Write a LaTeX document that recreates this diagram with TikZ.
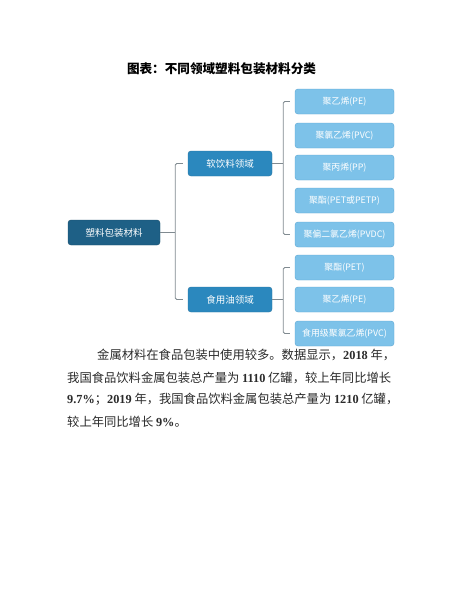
\documentclass[tikz,border=0pt]{standalone}
\usepackage{fontspec}
\setmainfont{Noto Sans CJK SC}
\newfontfamily\cjk{Noto Sans CJK SC}
\newfontfamily\latn{Liberation Serif}
\newcommand{\dg}[1]{{\latn\bfseries #1}}
\definecolor{rootc}{HTML}{1E6086}
\definecolor{midc}{HTML}{2B88BE}
\definecolor{leafc}{HTML}{7DC2E9}
\definecolor{leafb}{HTML}{5CA6D3}
\definecolor{connc}{HTML}{808A90}
\definecolor{txtc}{HTML}{2A2A2A}
\tikzset{
  box/.style={rounded corners=3pt, text=white, align=center, inner sep=0pt, minimum height=25pt},
  rootbox/.style={box, fill=rootc, draw=rootc!80!black, minimum width=92pt, font=\cjk\fontsize{9.5}{11}\selectfont},
  midbox/.style={box, fill=midc, draw=midc!85!black, minimum width=84pt, font=\cjk\fontsize{9.5}{11}\selectfont},
  leafbox/.style={box, fill=leafc, draw=leafb, minimum width=99pt, font=\cjk\fontsize{8.9}{10}\selectfont},
  conn/.style={draw=connc, line width=0.8pt, rounded corners=1.5pt},
  para/.style={anchor=west, inner sep=0pt, text=txtc, font=\cjk\fontsize{12.3}{14}\selectfont}
}
\begin{document}
\begin{tikzpicture}[x=1pt,y=-1pt]
\fill[white] (0,0) rectangle (463,600);
\path[use as bounding box] (0,0) rectangle (463,600);

\node[font=\cjk\bfseries\fontsize{12.6}{14}\selectfont, text=black, inner sep=0pt] (title) at (221.5,69) {图表：不同领域塑料包装材料分类};

\node[rootbox] (root) at (114,232.5) {塑料包装材料};
\node[midbox] (soft) at (230,163.5) {软饮料领域};
\node[midbox] (oil) at (230,299.5) {食用油领域};

\node[leafbox] (l1) at (344.5,101.5) {聚乙烯(PE)};
\node[leafbox] (l2) at (344.5,135.5) {聚氯乙烯(PVC)};
\node[leafbox] (l3) at (344.5,167.5) {聚丙烯(PP)};
\node[leafbox] (l4) at (344.5,200.5) {聚酯(PET或PETP)};
\node[leafbox] (l5) at (344.5,234.5) {聚偏二氯乙烯(PVDC)};
\node[leafbox] (l6) at (344.5,267.5) {聚酯(PET)};
\node[leafbox] (l7) at (344.5,299.5) {聚乙烯(PE)};
\node[leafbox] (l8) at (344.5,333.5) {食用级聚氯乙烯(PVC)};

\coordinate (p0) at ([xshift=15pt]root.east);
\draw[conn] (root.east) -- (p0);
\draw[conn] ([xshift=-5pt]soft.west) -| (p0) |- ([xshift=-5pt]oil.west);

\coordinate (p1) at ([xshift=11pt]soft.east);
\draw[conn] (soft.east) -- (p1);
\draw[conn] ([xshift=-5pt]l1.west) -| (p1) |- ([xshift=-5pt]l5.west);

\coordinate (p2) at ([xshift=11pt]oil.east);
\draw[conn] (oil.east) -- (p2);
\draw[conn] ([xshift=-5pt]l6.west) -| (p2) |- ([xshift=-5pt]l8.west);

\node[para] (t1) at (97,355) {金属材料在食品包装中使用较多。数据显示，\dg{2018} 年，};
\node[para] (t2) at (67,377.5) {我国食品饮料金属包装总产量为 \dg{1110} 亿罐，较上年同比增长};
\node[para] (t3) at (67,399.5) {\dg{9.7\%}；\dg{2019} 年，我国食品饮料金属包装总产量为 \dg{1210} 亿罐，};
\node[para] (t4) at (67,421.5) {较上年同比增长 \dg{9\%}。};
\end{tikzpicture}
\end{document}
